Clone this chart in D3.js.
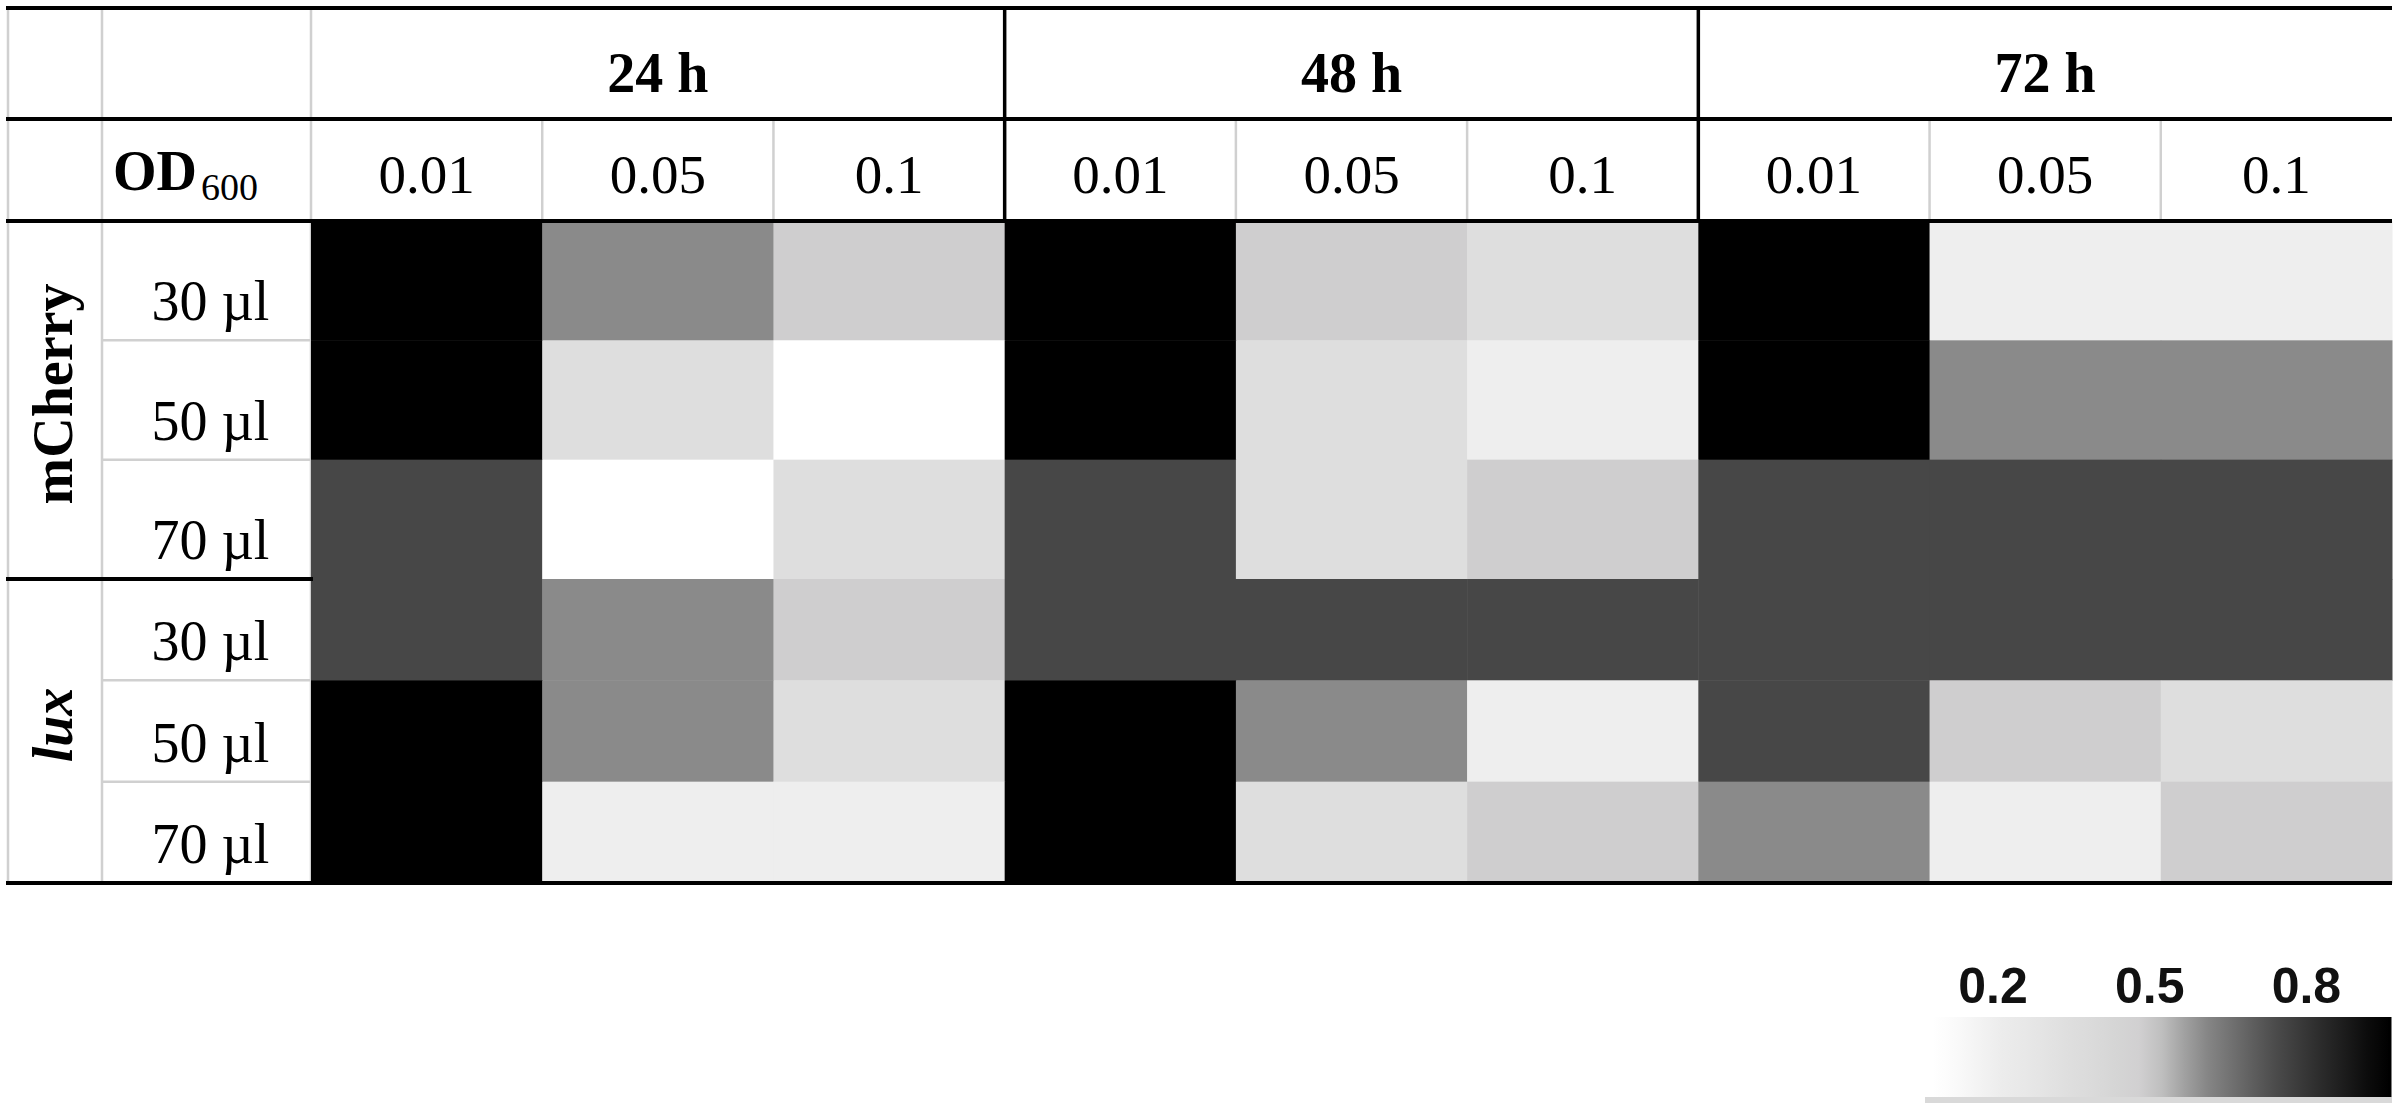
<!DOCTYPE html>
<html>
<head>
<meta charset="utf-8">
<script src="https://cdn.jsdelivr.net/npm/d3@7"></script>
<style>
  body { margin: 0; background: #fff; }
  svg { display: block; }
</style>
</head>
<body>
<svg id="chart"></svg>
<script>
// table headers
const times = ["24 h", "48 h", "72 h"];
const ods = ["0.01", "0.05", "0.1"];
const groups = ["mCherry", "lux"];
const volumes = ["30 µl", "50 µl", "70 µl"];

// cell values, one list per row, columns = 24h(0.01,0.05,0.1), 48h(...), 72h(...)
const mCherry30 = [0.95, 0.6, 0.5, 0.95, 0.5, 0.35, 0.95, 0.2, 0.2];
const mCherry50 = [0.95, 0.35, 0.1, 0.95, 0.35, 0.2, 0.95, 0.6, 0.6];
const mCherry70 = [0.75, 0.1, 0.35, 0.75, 0.35, 0.5, 0.75, 0.75, 0.75];
const lux30 = [0.75, 0.6, 0.5, 0.75, 0.75, 0.75, 0.75, 0.75, 0.75];
const lux50 = [0.95, 0.6, 0.35, 0.95, 0.6, 0.2, 0.75, 0.5, 0.35];
const lux70 = [0.95, 0.2, 0.2, 0.95, 0.35, 0.5, 0.6, 0.2, 0.5];

const legendTicks = [0.2, 0.5, 0.8];

const W = 2400, H = 1111;
const svg = d3.select("#chart").attr("width", W).attr("height", H);

// table frame
const xLeft = 8, xCol1 = 102, xCol2 = 311, xRight = 2392;
const yTop = 8, yHead1 = 119, yHead2 = 221, ySplit = 579, yBottom = 883;

const columns = times.flatMap(t => ods.map(o => t + "|" + o));
const x = d3.scaleBand().domain(columns).range([xCol2, xRight]);
const xTime = d3.scaleBand().domain(times).range([xCol2, xRight]);
const yGroup = {
  mCherry: d3.scaleBand().domain(volumes).range([yHead2, ySplit]),
  lux: d3.scaleBand().domain(volumes).range([ySplit, yBottom])
};

const color = d3.scaleLinear()
  .domain([0.1, 0.2, 0.35, 0.5, 0.6, 0.75, 0.95])
  .range(["#ffffff", "#eeeeee", "#dedede", "#cfcecf", "#8a8a8a", "#474747", "#000000"])
  .clamp(true);

const rows = [
  { group: "mCherry", vol: "30 µl", values: mCherry30 },
  { group: "mCherry", vol: "50 µl", values: mCherry50 },
  { group: "mCherry", vol: "70 µl", values: mCherry70 },
  { group: "lux", vol: "30 µl", values: lux30 },
  { group: "lux", vol: "50 µl", values: lux50 },
  { group: "lux", vol: "70 µl", values: lux70 }
];

const cells = rows.flatMap(r => r.values.map((v, i) => ({ group: r.group, vol: r.vol, col: columns[i], v })));

const serif = "'Liberation Serif', 'Times New Roman', serif";
const gray = "#d0d0d0";

// thin gray grid
const grid = svg.append("g").attr("stroke", gray).attr("stroke-width", 2.5);
[xLeft, xCol1, xCol2].forEach(gx => grid.append("line").attr("x1", gx).attr("x2", gx).attr("y1", yTop).attr("y2", yBottom));
columns.forEach((c, i) => {
  if (i % 3 === 0) return;
  grid.append("line").attr("x1", x(c)).attr("x2", x(c)).attr("y1", yHead1).attr("y2", yHead2);
});
groups.forEach(g => {
  volumes.slice(1).forEach(v => {
    grid.append("line").attr("x1", xCol1).attr("x2", xCol2)
      .attr("y1", yGroup[g](v)).attr("y2", yGroup[g](v));
  });
});

// heatmap cells
svg.append("g").selectAll("rect")
  .data(cells)
  .join("rect")
  .attr("x", d => x(d.col))
  .attr("y", d => yGroup[d.group](d.vol))
  .attr("width", x.bandwidth() + 0.5)
  .attr("height", d => yGroup[d.group].bandwidth() + 0.5)
  .attr("fill", d => color(d.v));

// black rules
const rules = svg.append("g").attr("stroke", "#000").attr("stroke-width", 4);
[yTop, yHead1, yHead2, yBottom].forEach(yy =>
  rules.append("line").attr("x1", xLeft - 2).attr("x2", xRight).attr("y1", yy).attr("y2", yy));
rules.append("line").attr("x1", xLeft - 2).attr("x2", xCol2 + 2).attr("y1", ySplit).attr("y2", ySplit);
times.slice(1).forEach(t =>
  rules.append("line").attr("x1", xTime(t)).attr("x2", xTime(t)).attr("y1", yTop).attr("y2", yHead2).attr("stroke-width", 3.5));

// header texts
svg.append("g").selectAll("text")
  .data(times)
  .join("text")
  .attr("x", d => xTime(d) + xTime.bandwidth() / 2)
  .attr("y", yHead1 - 27)
  .attr("text-anchor", "middle")
  .style("font-family", serif)
  .style("font-weight", "bold")
  .style("font-size", "56px")
  .text(d => d);

svg.append("g").selectAll("text")
  .data(columns)
  .join("text")
  .attr("x", d => x(d) + x.bandwidth() / 2)
  .attr("y", yHead2 - 28)
  .attr("text-anchor", "middle")
  .style("font-family", serif)
  .style("font-size", "55px")
  .text(d => d.split("|")[1]);

const odLabel = svg.append("text")
  .attr("x", 113)
  .attr("y", yHead2 - 31)
  .style("font-family", serif)
  .style("font-size", "56px");
odLabel.append("tspan").style("font-weight", "bold").text("OD");
odLabel.append("tspan").attr("dx", 4).attr("dy", 10).style("font-size", "38px").text("600");

// row labels
svg.append("g").selectAll("text")
  .data(rows)
  .join("text")
  .attr("x", (xCol1 + xCol2) / 2 + 4)
  .attr("y", d => yGroup[d.group](d.vol) + yGroup[d.group].bandwidth() - 20)
  .attr("text-anchor", "middle")
  .style("font-family", serif)
  .style("font-size", "56px")
  .text(d => d.vol);

// group labels, rotated
svg.append("g").selectAll("text")
  .data(groups)
  .join("text")
  .attr("transform", d => {
    const r = yGroup[d].range();
    return `translate(72,${(r[0] + r[1]) / 2 - 6}) rotate(-90)`;
  })
  .attr("text-anchor", "middle")
  .style("font-family", serif)
  .style("font-weight", "bold")
  .style("font-style", d => d === "lux" ? "italic" : "normal")
  .style("font-size", "56px")
  .text(d => d);

// legend
const lx = d3.scaleLinear().domain([0.085, 0.96]).range([1933, 2390]);
const defs = svg.append("defs");
const grad = defs.append("linearGradient").attr("id", "legendGrad");
d3.range(0, 1.0001, 0.05).forEach(t => {
  grad.append("stop")
    .attr("offset", (t * 100) + "%")
    .attr("stop-color", color(lx.invert(lx.range()[0] + t * (lx.range()[1] - lx.range()[0]))));
});
svg.append("rect")
  .attr("x", 1925).attr("y", 1097).attr("width", xRight - 1925).attr("height", 6)
  .attr("fill", "#d9d9d9");
svg.append("rect")
  .attr("x", lx.range()[0]).attr("y", 1017)
  .attr("width", lx.range()[1] - lx.range()[0]).attr("height", 80)
  .attr("fill", "url(#legendGrad)");
svg.append("line")
  .attr("x1", lx.range()[1]).attr("x2", lx.range()[1]).attr("y1", 1017).attr("y2", 1097)
  .attr("stroke", "#000").attr("stroke-width", 3);
svg.append("g").selectAll("text")
  .data(legendTicks)
  .join("text")
  .attr("x", d => lx(d))
  .attr("y", 1003)
  .attr("text-anchor", "middle")
  .style("font-family", "'Liberation Sans', Arial, sans-serif")
  .style("font-weight", "bold")
  .style("font-size", "50px")
  .style("fill", "#111")
  .text(d => d.toFixed(1));
</script>
</body>
</html>
